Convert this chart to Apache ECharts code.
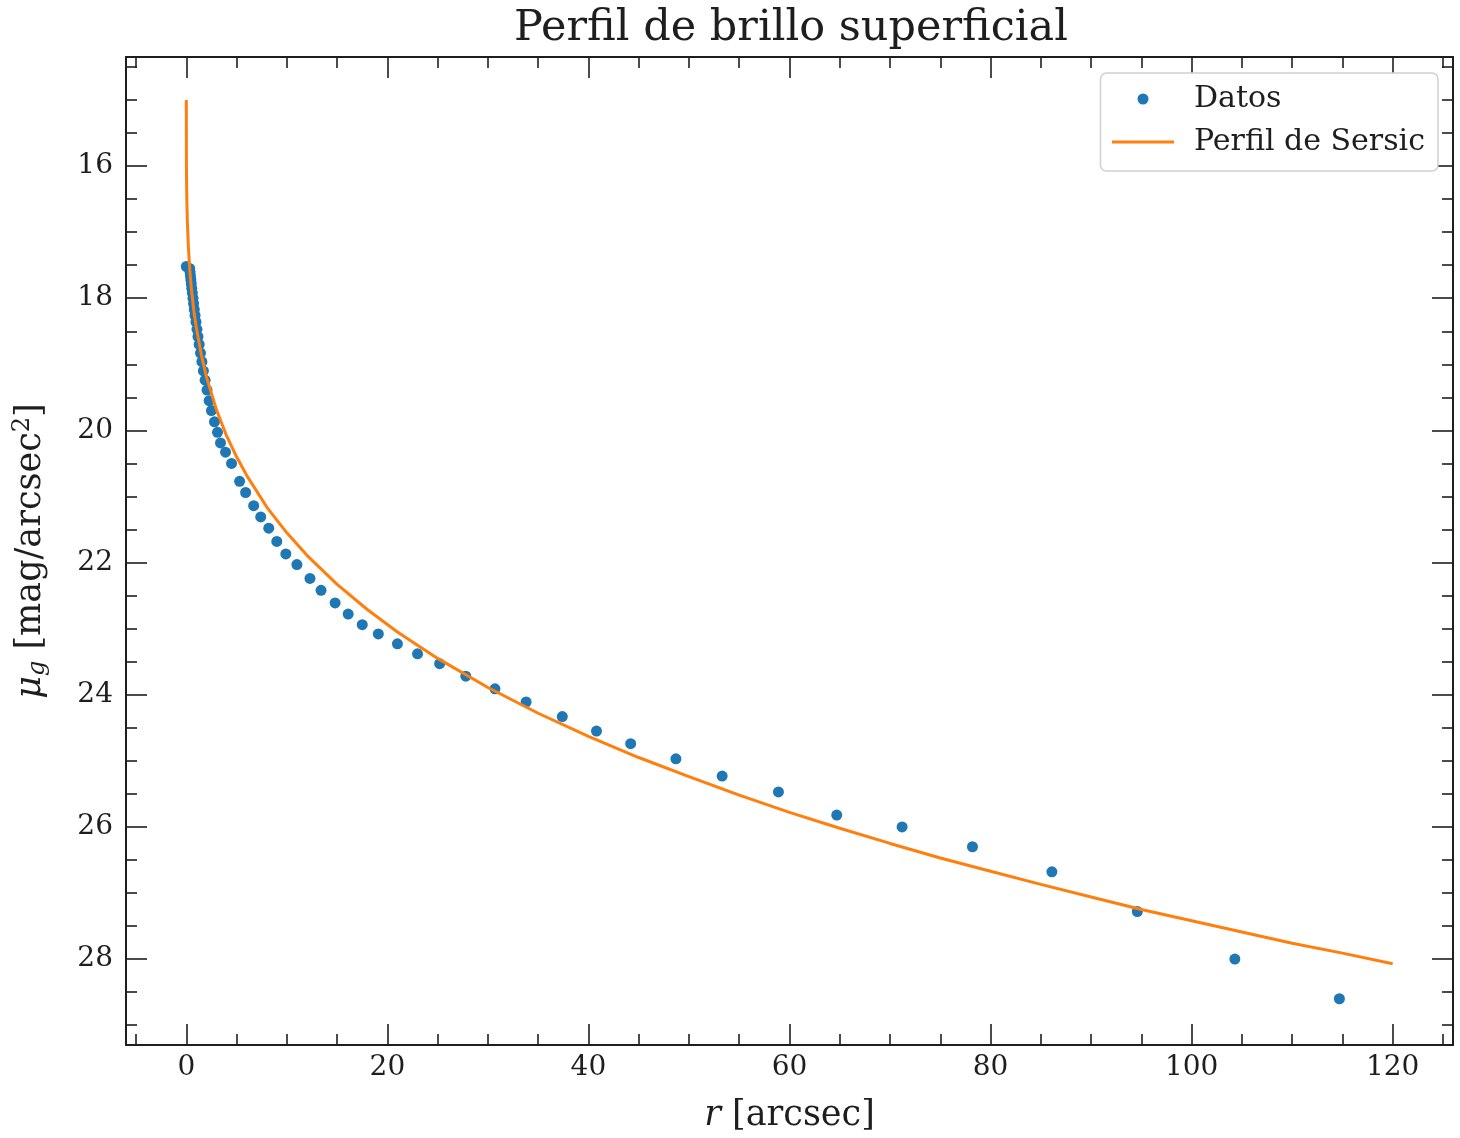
<!DOCTYPE html>
<html>
<head>
<meta charset="utf-8">
<script src="https://cdn.jsdelivr.net/npm/echarts@6/dist/echarts.min.js"></script>
<style>
  html, body { margin: 0; padding: 0; background: #fff; }
  #main { width: 1460px; height: 1138px; }
</style>
</head>
<body>
<div id="main"></div>
<script>
// datos del perfil (r en arcsec, mu en mag/arcsec^2)
var rData = [0.0, 0.33, 0.37, 0.41, 0.45, 0.49, 0.54, 0.60, 0.66, 0.72, 0.79, 0.87, 0.96, 1.06, 1.16, 1.28,
    1.41, 1.55, 1.70, 1.87, 2.06, 2.27, 2.5, 2.8, 3.1, 3.4, 3.9, 4.5, 5.3, 5.9, 6.7, 7.4, 8.2, 9.0, 9.9,
    11.0, 12.3, 13.4, 14.8, 16.1, 17.5, 19.1, 21.0, 23.0, 25.2, 27.8, 30.7, 33.8, 37.4, 40.8, 44.2, 48.7,
    53.3, 58.9, 64.7, 71.2, 78.2, 86.1, 94.6, 104.3, 114.7];
var muData = [17.52, 17.55, 17.60, 17.66, 17.72, 17.78, 17.85, 17.92, 18.00, 18.08, 18.17, 18.26, 18.36, 18.47,
    18.58, 18.70, 18.83, 18.96, 19.10, 19.24, 19.39, 19.55, 19.70, 19.87, 20.03, 20.19, 20.33, 20.50, 20.77,
    20.94, 21.14, 21.31, 21.48, 21.68, 21.87, 22.03, 22.24, 22.42, 22.61, 22.78, 22.94, 23.08, 23.23, 23.38,
    23.53, 23.72, 23.91, 24.11, 24.33, 24.55, 24.74, 24.97, 25.23, 25.47, 25.82, 26.00, 26.30, 26.68, 27.28,
    28.00, 28.60];

// perfil de Sersic
var rModel = [0, 0.01, 0.03, 0.06, 0.1, 0.2, 0.35, 0.5, 0.75, 1, 1.5, 2, 3, 4, 5, 6, 8, 10, 12, 15, 18, 21,
    25, 30, 35, 40, 45, 50, 55, 60, 65, 70, 75, 80, 85, 90, 95, 100, 105, 110, 115, 120];
var muModel = [15.00, 15.96, 16.30, 16.58, 16.82, 17.21, 17.58, 17.85, 18.19, 18.45, 18.86, 19.19, 19.69,
    20.08, 20.40, 20.68, 21.16, 21.55, 21.89, 22.33, 22.71, 23.05, 23.45, 23.89, 24.28, 24.63, 24.95, 25.24,
    25.52, 25.78, 26.02, 26.25, 26.47, 26.67, 26.87, 27.06, 27.25, 27.42, 27.59, 27.76, 27.91, 28.07];

var xTicks = [0, 20, 40, 60, 80, 100, 120];
var xMinor = [-5, 5, 10, 15, 25, 30, 35, 45, 50, 55, 65, 70, 75, 85, 90, 95, 105, 110, 115, 125];
var yTicks = [16, 18, 20, 22, 24, 26, 28];
var yMinor = [14.5, 15, 15.5, 16.5, 17, 17.5, 18.5, 19, 19.5, 20.5, 21, 21.5, 22.5, 23, 23.5, 24.5, 25,
    25.5, 26.5, 27, 27.5, 28.5, 29];

var serif = "'DejaVu Serif', serif";
var ink = '#1e1e1e';

var puntos = [];
for (var i = 0; i < rData.length; i++) puntos.push([rData[i], muData[i]]);
var curva = [];
for (var j = 0; j < rModel.length; j++) curva.push([rModel[j], muModel[j]]);

function ejeX(pos, vals, len, main) {
    return {
        type: 'value', position: pos, min: -6, max: 126,
        axisLine: { show: main, onZero: false, lineStyle: { color: ink, width: 2 } },
        axisTick: { show: true, inside: true, length: len, customValues: vals, lineStyle: { color: ink, width: 1.6 } },
        axisLabel: { show: main && pos === 'bottom', customValues: vals, margin: 9,
            fontFamily: serif, fontSize: 28, color: ink },
        splitLine: { show: false }
    };
}
function ejeY(pos, vals, len, main) {
    return {
        type: 'value', position: pos, inverse: true, min: 14.35, max: 29.3,
        axisLine: { show: main, onZero: false, lineStyle: { color: ink, width: 2 } },
        axisTick: { show: true, inside: true, length: len, customValues: vals, lineStyle: { color: ink, width: 1.6 } },
        axisLabel: { show: main && pos === 'left', customValues: vals, margin: 13,
            fontFamily: serif, fontSize: 28, color: ink },
        splitLine: { show: false }
    };
}

var xAxes = [ejeX('bottom', xTicks, 21, true), ejeX('bottom', xMinor, 11, false),
    ejeX('top', xTicks, 21, true), ejeX('top', xMinor, 11, false)];
var yAxes = [ejeY('left', yTicks, 21, true), ejeY('left', yMinor, 11, false),
    ejeY('right', yTicks, 21, true), ejeY('right', yMinor, 11, false)];

xAxes[0].name = '{i|r} [arcsec]';
xAxes[0].nameLocation = 'middle';
xAxes[0].nameGap = 53;
xAxes[0].nameTextStyle = { fontFamily: serif, fontSize: 35, color: ink,
    rich: { i: { fontFamily: serif, fontStyle: 'italic', fontSize: 35, color: ink } } };

yAxes[0].name = '{i|μ}{sub|g} [mag/arcsec{sup|2}]';
yAxes[0].nameLocation = 'middle';
yAxes[0].nameGap = 76;
yAxes[0].nameTextStyle = { fontFamily: serif, fontSize: 35, color: ink,
    rich: {
        i: { fontFamily: serif, fontStyle: 'italic', fontSize: 35, color: ink },
        sub: { fontFamily: serif, fontStyle: 'italic', fontSize: 24, color: ink, padding: [15, 0, 0, 0] },
        sup: { fontFamily: serif, fontSize: 24, color: ink, padding: [0, 0, 15, 0] }
    } };

var myChart = echarts.init(document.getElementById('main'));

option = {
    backgroundColor: '#fff',
    animation: false,
    title: {
        text: 'Perfil de brillo superficial',
        left: 786, top: 2, textAlign: 'center',
        textStyle: { fontFamily: serif, fontSize: 43, fontWeight: 'normal', color: ink }
    },
    legend: {
        right: 22, top: 73, orient: 'vertical',
        data: [
            { name: 'Datos', icon: 'circle' },
            { name: 'Perfil de Sersic', itemStyle: { color: 'rgba(0,0,0,0)', opacity: 0, borderWidth: 0 },
                lineStyle: { color: '#ff7f0e', width: 3 } }
        ],
        itemWidth: 62, itemHeight: 11, itemGap: 13,
        padding: [11, 13, 14, 10],
        backgroundColor: '#fff', borderColor: '#d0d0d0', borderWidth: 1.5, borderRadius: 6,
        textStyle: { fontFamily: serif, fontSize: 30, color: ink, padding: [0, 0, 0, 15] }
    },
    grid: { left: 126, right: 7, top: 57, bottom: 91, containLabel: false },
    xAxis: xAxes,
    yAxis: yAxes,
    series: [
        {
            name: 'Datos', type: 'scatter', data: puntos,
            symbolSize: 11, itemStyle: { color: '#1f77b4', opacity: 1 },
            xAxisIndex: 0, yAxisIndex: 0
        },
        {
            name: 'Perfil de Sersic', type: 'line', data: curva,
            symbol: 'none', smooth: false,
            lineStyle: { color: '#ff7f0e', width: 3 }, itemStyle: { color: '#ff7f0e' },
            xAxisIndex: 0, yAxisIndex: 0
        }
    ]
};
myChart.setOption(option);
</script>
</body>
</html>
